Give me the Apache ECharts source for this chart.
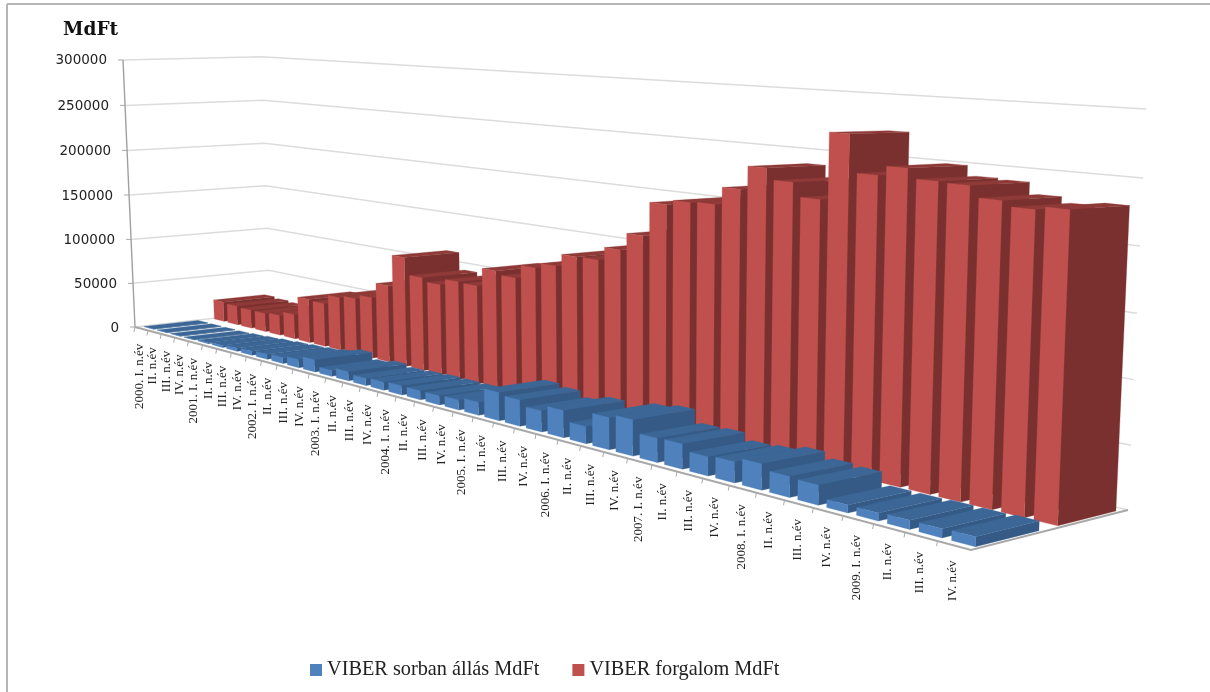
<!DOCTYPE html>
<html><head><meta charset="utf-8"><style>html,body{margin:0;background:#fff}#c{width:1210px;height:692px}</style>
<script src="https://cdn.jsdelivr.net/npm/echarts@6/dist/echarts.min.js"></script></head><body><div id="c"></div>
<script>
const years=[2000,2001,2002,2003,2004,2005,2006,2007,2008,2009];
const quarters=['I','II','III','IV'];
const categories=[];years.forEach(y=>quarters.forEach((q,i)=>categories.push((i===0?y+'. ':'')+q+'. n.év')));
const redValues=[22300,21200,20300,20500,21900,26800,47100,46300,56400,58900,63500,79600,111900,94600,90900,97300,96700,114700,111200,124100,129200,140700,141100,153200,168700,198700,202900,203700,218700,238400,229100,217700,271300,241200,248800,241000,240200,231500,227400,229900];
const blueValues=[400,400,400,400,1100,2200,3300,4300,5300,6300,8300,12400,6100,9100,7000,7900,8800,8700,8600,9400,12100,25700,23600,18800,23900,14900,27600,30700,20200,20800,15600,17000,20800,16500,15500,6100,6000,6700,6600,7200];
const valueTicks=[0,50000,100000,150000,200000,250000,300000];
const p0=[135,327],p1=[971,550],p2=[1128,510],p3=[270,312],V=[636,11473],K=-0.023395;
const dx1=p1[0]-p2[0],dx2=p3[0]-p2[0],sx=p0[0]-p1[0]+p2[0]-p3[0],dy1=p1[1]-p2[1],dy2=p3[1]-p2[1],sy=p0[1]-p1[1]+p2[1]-p3[1];
const den=dx1*dy2-dx2*dy1,g=(sx*dy2-dx2*sy)/den,h=(dx1*sy-sx*dy1)/den;
const a=p1[0]-p0[0]+g*p1[0],b=p3[0]-p0[0]+h*p3[0],c=p0[0],d=p1[1]-p0[1]+g*p1[1],e=p3[1]-p0[1]+h*p3[1],f=p0[1];
function P(u0,v,z){const u=u0+.015*u0*(1-u0),w=1+g*u+h*v+K*z;return [(a*u+b*v+c+K*V[0]*z)/w,(d*u+e*v+f+K*V[1]*z)/w+7*z*u*v];}
const BAR0=.17,BAR1=.88,BLUE=[.05,.44],RED=[.56,.945];
const G={left:100,top:100,width:800,height:400};
const chart=echarts.init(document.getElementById('c'));
function norm(api,i,val){const pt=api.coord([i,val]),bw=api.size([1,0])[0];return {u:(pt[0]-bw/2-G.left)/G.width,z:(G.top+G.height-pt[1])/G.height,bw:bw/G.width};}
function bars(range,cF,cS,cT){return function(params,api){const i=api.value(0),n=norm(api,i,api.value(1)),u0=n.u+BAR0*n.bw,u1=n.u+BAR1*n.bw,z=n.z,[v0,v1]=range;
 const poly=(pts,col)=>({type:'polygon',shape:{points:pts},style:{fill:col,stroke:col,lineWidth:.3}});
 return {type:'group',children:[
  poly([P(u1,v0,0),P(u1,v0,z),P(u1,v1,z),P(u1,v1,0)],cS),
  poly([P(u0,v0,z),P(u1,v0,z),P(u1,v1,z),P(u0,v1,z)],cT),
  poly([P(u0,v0,0),P(u1,v0,0),P(u1,v0,z),P(u0,v0,z)],cF)]};};}
const serif='"Liberation Serif",serif';
chart.setOption({animation:false,backgroundColor:'#fff',
 grid:{left:G.left,top:G.top,width:G.width,height:G.height,show:false},
 xAxis:{type:'category',data:categories,show:false},
 yAxis:{type:'value',min:0,max:300000,interval:50000,show:false},
 legend:{left:305,top:655,itemWidth:12,itemHeight:12,itemGap:33,data:['VIBER sorban állás MdFt','VIBER forgalom MdFt'],textStyle:{fontFamily:serif,fontSize:20.3,color:'#222'},selectedMode:false,icon:'rect'},
 graphic:[
  {type:'line',shape:{x1:7,y1:4,x2:1210,y2:4},style:{stroke:'#b5b5b5',lineWidth:2}},
  {type:'line',shape:{x1:7,y1:4,x2:7,y2:692},style:{stroke:'#b5b5b5',lineWidth:2}},
  {type:'text',style:{x:63,y:21,text:'MdFt',font:'bold 18.5px "DejaVu Serif"',fill:'#111'}}
 ],
 series:[
  {type:'custom',name:'walls',silent:true,data:valueTicks.map(v=>[0,v]),renderItem(params,api){const v=api.value(1),z=norm(api,0,v).z;
    const A=P(0,0,z),B=P(0,1,z),C=P(1,1,z);
    return {type:'group',children:[
     {type:'polyline',shape:{points:[A,B,C]},style:{stroke:'#dcdcdc',lineWidth:1.5,fill:null}},
     {type:'line',shape:{x1:A[0]-5,y1:A[1],x2:A[0],y2:A[1]},style:{stroke:'#aaa',lineWidth:1}},
     {type:'text',style:{x:A[0]-16,y:A[1]+1,text:String(v),align:'right',verticalAlign:'middle',font:'13.5px "DejaVu Sans"',fill:'#222'}}]};}},
  {type:'custom',name:'frame',silent:true,data:[[0,300000]],renderItem(params,api){
    return {type:'group',children:[
     {type:'line',shape:{x1:P(0,0,0)[0],y1:P(0,0,0)[1],x2:P(0,0,1)[0],y2:P(0,0,1)[1]},style:{stroke:'#a0a0a0',lineWidth:1.4}},
     {type:'polyline',shape:{points:[P(0,0,0),P(1,0,0),P(1,1,0)]},style:{stroke:'#a8a8a8',lineWidth:2,fill:null}}]};}},
  {type:'custom',name:'cats',silent:true,data:categories.map((c,i)=>[i,0]),renderItem(params,api){const i=api.value(0),n=norm(api,i,0),t=P(n.u,0,0),m=P(n.u+n.bw/2,0,0);
    return {type:'group',children:[
     {type:'line',shape:{x1:t[0],y1:t[1],x2:t[0]-1,y2:t[1]+5},style:{stroke:'#aaa',lineWidth:1}},
     {type:'text',x:m[0]-1.5,y:m[1]+15,rotation:Math.PI/2,style:{x:0,y:0,text:categories[i],align:'right',verticalAlign:'middle',font:'13px '+serif,fill:'#222'}}]};}},
  {type:'custom',name:'VIBER forgalom MdFt',itemStyle:{color:'#C0504D'},data:redValues.map((v,i)=>[i,v]),renderItem:bars(RED,'#C0504D','#7A302E','#8E3A38')},
  {type:'custom',name:'VIBER sorban állás MdFt',itemStyle:{color:'#4F81BD'},data:blueValues.map((v,i)=>[i,v]),renderItem:bars(BLUE,'#4F81BD','#345A85','#3B6696')}
 ]});
</script></body></html>
